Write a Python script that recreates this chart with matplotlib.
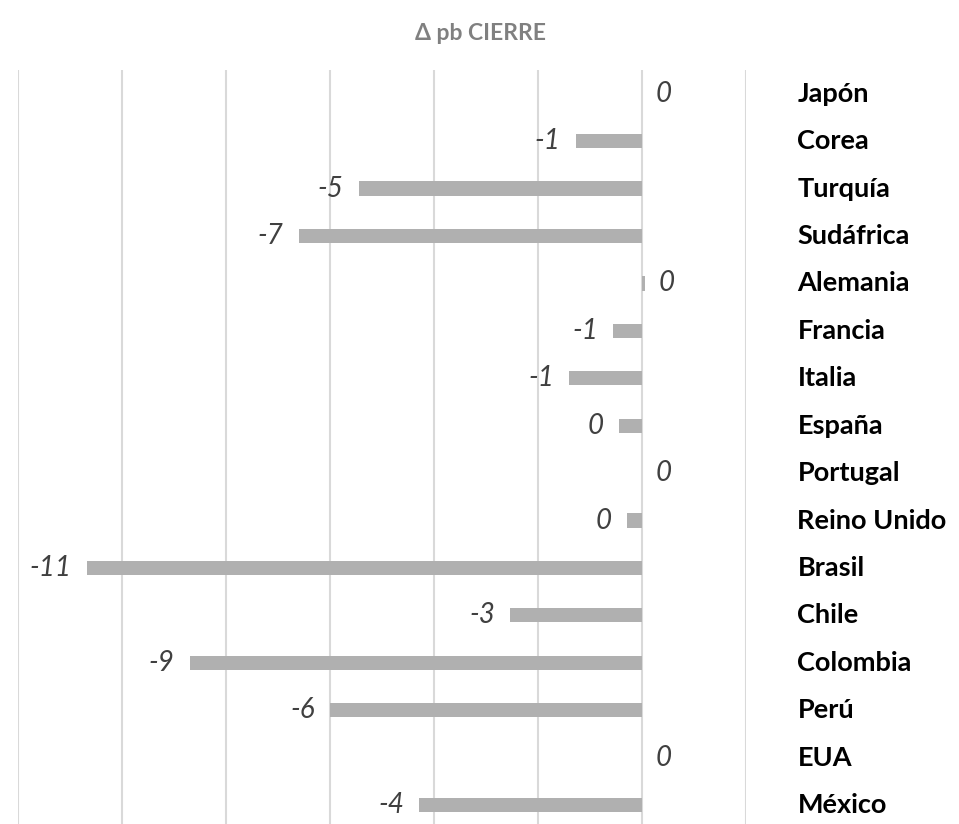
import matplotlib
matplotlib.use("Agg")
import matplotlib.pyplot as plt

countries = ["Japón", "Corea", "Turquía", "Sudáfrica", "Alemania", "Francia", "Italia",
             "España", "Portugal", "Reino Unido", "Brasil", "Chile", "Colombia", "Perú",
             "EUA", "México"]
values = [0.0, -1.27, -5.45, -6.6, 0.05, -0.55, -1.4, -0.44, 0.0, -0.28, -10.67, -2.53,
          -8.7, -6.0, 0.0, -4.28]
title = "Δ pb CIERRE"
xticks = [-12, -10, -8, -6, -4, -2, 0, 2]

plt.rcParams['font.family'] = ['Lato', 'DejaVu Sans']

fig = plt.figure(figsize=(9.59, 8.24), dpi=100)
W, H = 959, 824
ax = fig.add_axes([18 / W, 0, (746 - 18) / W, (824 - 70) / H])

ypos = list(range(len(countries)))
ax.barh(ypos, values, height=0.3, color="#b0b0b0", zorder=3)
ax.set_xlim(-12, 2)
ax.set_ylim(15.4, -0.5)
ax.set_xticks(xticks)
ax.grid(axis="x", color="#d9d9d9", linewidth=1.5, zorder=0)
ax.set_yticks([])
ax.tick_params(axis="x", length=0, labelbottom=False)
for s in ax.spines.values():
    s.set_visible(False)

for y, v, name in zip(ypos, values, countries):
    lab = f"{round(v):.0f}"
    if v < 0:
        ax.annotate(lab, (v, y), xytext=(-11, 0), textcoords="offset points",
                    ha="right", va="center", fontsize=20, style="italic", color="#404040")
    else:
        ax.annotate(lab, (max(v, 0), y), xytext=(10, 0), textcoords="offset points",
                    ha="left", va="center", fontsize=20, style="italic", color="#404040")
    ax.annotate(name, (1.0, y), xycoords=("axes fraction", "data"), xytext=(37, 0),
                textcoords="offset points", ha="left", va="center", fontsize=19.5,
                fontweight="bold", color="#000000", annotation_clip=False)

fig.text(480 / W, 1 - 33 / H, title, ha="center", va="center", fontsize=16.5,
         fontweight="bold", color="#808080")

fig.savefig("out.png", dpi=100)
